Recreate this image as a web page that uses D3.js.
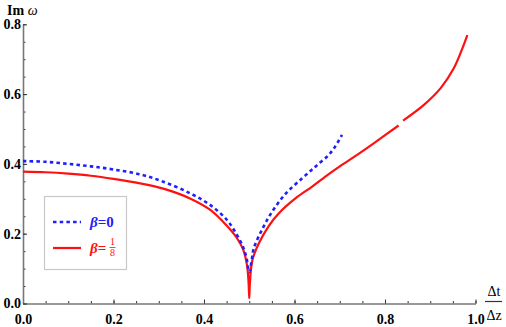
<!DOCTYPE html>
<html><head><meta charset="utf-8">
<script src="https://cdn.jsdelivr.net/npm/d3@7"></script>
<style>body{margin:0;background:#fff}svg{display:block}</style>
</head><body>
<script>
// data
const blueX = [0.0,0.05,0.1,0.15,0.2,0.259,0.31,0.369,0.414,0.451,0.473,0.487,0.494,0.5,0.506,0.51,0.528,0.55,0.58,0.617,0.646,0.675,0.69,0.705];
const blueY = [0.408,0.406,0.400,0.393,0.384,0.370,0.349,0.316,0.282,0.239,0.196,0.160,0.130,0.09,0.130,0.158,0.211,0.262,0.314,0.359,0.392,0.425,0.450,0.483];
const redX1 = [0.0,0.05,0.1,0.15,0.2,0.259,0.31,0.369,0.414,0.451,0.473,0.487,0.495,0.4985,0.5,0.5015,0.507,0.521,0.543,0.565,0.602,0.639,0.675,0.70,0.735,0.775,0.830];
const redY1 = [0.378,0.376,0.372,0.366,0.357,0.344,0.329,0.301,0.268,0.222,0.187,0.153,0.110,0.060,0.015,0.060,0.125,0.172,0.222,0.258,0.301,0.335,0.370,0.393,0.423,0.459,0.510];
const redX2 = [0.840,0.886,0.923,0.952,0.971,0.982];
const redY2 = [0.524,0.569,0.617,0.674,0.731,0.769];
const xTicks = [0.0,0.2,0.4,0.6,0.8,1.0];
const yTicks = [0.0,0.2,0.4,0.6,0.8];

const W=506,H=327;
const svg=d3.select("body").append("svg").attr("width",W).attr("height",H);
const x=d3.scaleLinear().domain([0,1]).range([23,475.5]);
const y=d3.scaleLinear().domain([0,0.8]).range([303.5,24.3]);
const fmt=d3.format(".1f");
const minorX=d3.range(0,1.0001,0.05), minorY=d3.range(0,0.8001,0.05);

// minor ticks
svg.append("g").attr("transform","translate(0,303.5)")
  .call(d3.axisBottom(x).tickValues(minorX).tickSize(-2.5).tickFormat(""))
  .call(g=>{g.select(".domain").remove();g.selectAll("line").attr("stroke","#333");});
svg.append("g").attr("transform","translate(23,0)")
  .call(d3.axisLeft(y).tickValues(minorY).tickSize(-2.5).tickFormat(""))
  .call(g=>{g.select(".domain").remove();g.selectAll("line").attr("stroke","#333");});
// major
const gx=svg.append("g").attr("transform","translate(0,303.5)")
  .call(d3.axisBottom(x).tickValues(xTicks).tickSizeInner(-4).tickSizeOuter(0).tickPadding(8).tickFormat(fmt));
gx.select(".domain").attr("stroke","#777").attr("stroke-width",1.6);
gx.selectAll(".tick line").attr("stroke","#333");
gx.selectAll("text").attr("font-family","Liberation Serif").attr("font-weight","bold").attr("font-size","14px").attr("fill","#000").attr("dy","0.9em");
const gy=svg.append("g").attr("transform","translate(23,0)")
  .call(d3.axisLeft(y).tickValues(yTicks).tickSizeInner(-4).tickSizeOuter(0).tickPadding(4).tickFormat(fmt));
gy.select(".domain").attr("stroke","#777").attr("stroke-width",1.6);
gy.selectAll(".tick line").attr("stroke","#333");
gy.selectAll("text").attr("font-family","Liberation Serif").attr("font-weight","bold").attr("font-size","14px").attr("fill","#000").attr("x",-2);

// curves
const line=d3.line().x(d=>x(d[0])).y(d=>y(d[1])).curve(d3.curveCatmullRom.alpha(0.5));
svg.append("path").datum(redX1.map((v,i)=>[v,redY1[i]])).attr("d",line)
  .attr("fill","none").attr("stroke","#ff1010").attr("stroke-width",2.2);
svg.append("path").datum(redX2.map((v,i)=>[v,redY2[i]])).attr("d",line)
  .attr("fill","none").attr("stroke","#ff1010").attr("stroke-width",2.2);
svg.append("path").datum(blueX.map((v,i)=>[v,blueY[i]])).attr("d",line)
  .attr("fill","none").attr("stroke","#2020ff").attr("stroke-width",2.6).attr("stroke-dasharray","3.5,3.2");

// axis labels
const yl=svg.append("text").attr("x",7).attr("y",15).attr("font-family","Liberation Serif").attr("font-size","14px");
yl.append("tspan").attr("font-weight","bold").text("Im ");
yl.append("tspan").attr("font-style","italic").text("ω");
const xl=svg.append("g").attr("font-family","Liberation Serif").attr("font-size","14px");
xl.append("text").attr("x",494).attr("y",296).attr("text-anchor","middle").text("Δt");
xl.append("line").attr("x1",485).attr("x2",502).attr("y1",301.5).attr("y2",301.5).attr("stroke","#333").attr("stroke-width",1.2);
xl.append("text").attr("x",494).attr("y",320).attr("text-anchor","middle").text("Δz");

// legend
const lg=svg.append("g");
lg.append("rect").attr("x",44.5).attr("y",196.5).attr("width",82).attr("height",73).attr("fill","#fff").attr("stroke","#c8c8c8").attr("stroke-width",1.2);
lg.append("line").attr("x1",53).attr("x2",81).attr("y1",222).attr("y2",222).attr("stroke","#2020ff").attr("stroke-width",2.6).attr("stroke-dasharray","3.5,3.2");
lg.append("line").attr("x1",53).attr("x2",81).attr("y1",248).attr("y2",248).attr("stroke","#ff1010").attr("stroke-width",2.2);
const t1=lg.append("text").attr("x",90).attr("y",227).attr("font-family","Liberation Serif").attr("font-size","15px").attr("font-weight","bold").attr("fill","#2020ff");
t1.append("tspan").attr("font-style","italic").text("β");
t1.append("tspan").text("=0");
const t2=lg.append("text").attr("x",90).attr("y",253).attr("font-family","Liberation Serif").attr("font-size","15px").attr("font-weight","bold").attr("fill","#ff1010");
t2.append("tspan").attr("font-style","italic").text("β");
t2.append("tspan").text("=");
lg.append("text").attr("x",112.5).attr("y",245).attr("text-anchor","middle").attr("font-family","Liberation Serif").attr("font-size","10px").attr("fill","#ff1010").text("1");
lg.append("line").attr("x1",109.5).attr("x2",115.5).attr("y1",247.5).attr("y2",247.5).attr("stroke","#ff1010").attr("stroke-width",0.8);
lg.append("text").attr("x",112.5).attr("y",256).attr("text-anchor","middle").attr("font-family","Liberation Serif").attr("font-size","10px").attr("fill","#ff1010").text("8");
</script>
</body></html>
